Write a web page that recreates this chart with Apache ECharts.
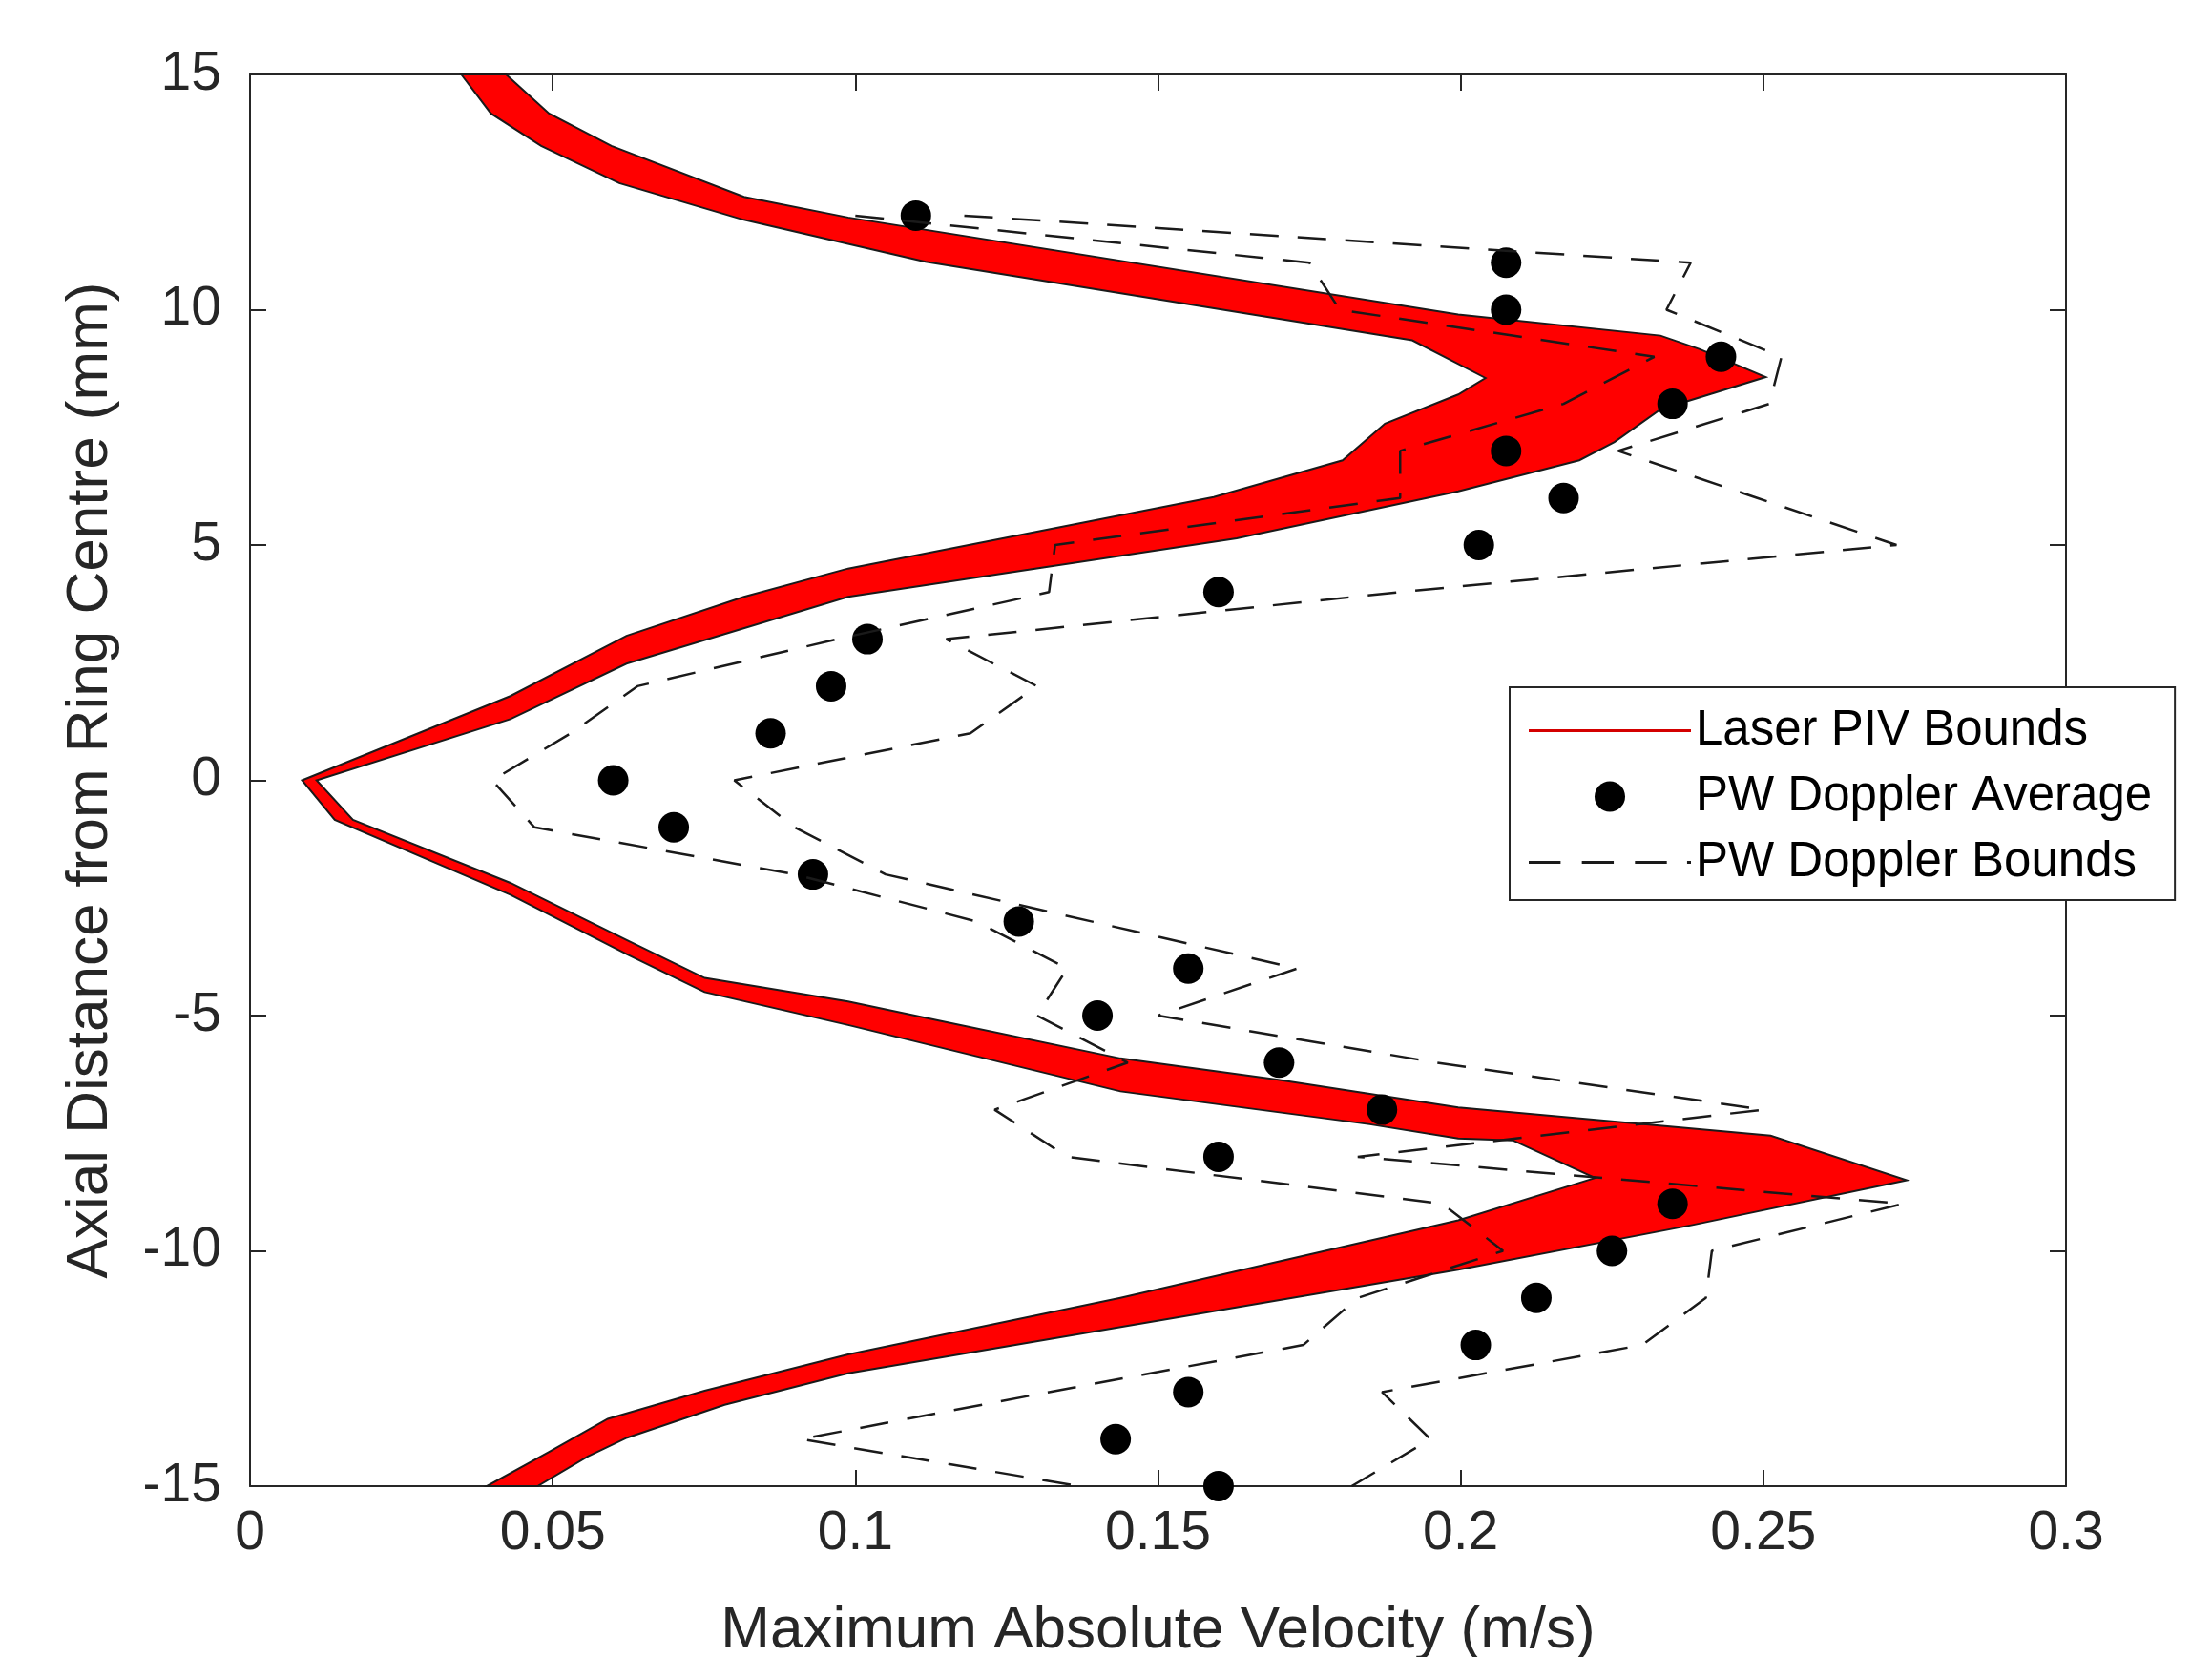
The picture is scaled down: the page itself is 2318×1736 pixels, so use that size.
<!DOCTYPE html>
<html>
<head>
<meta charset="utf-8">
<script src="https://cdn.jsdelivr.net/npm/echarts@6/dist/echarts.min.js"></script>
<style>
html,body{margin:0;padding:0;background:#ffffff;}
#chart{width:2318px;height:1736px;}
</style>
</head>
<body>
<div id="chart"></div>
<script>
// ---- Data ----
// Laser PIV bounds: [velocity (m/s), axial distance (mm)], ordered from top (15) to bottom (-15)
const pivLeftBound = [
  [0.0349,15],[0.0398,14.17],[0.0481,13.48],[0.061,12.69],[0.0816,11.91],[0.0988,11.4],
  [0.1116,11.02],[0.192,9.35],[0.2041,8.55],[0.1996,8.2],[0.1875,7.58],[0.1805,6.8],
  [0.1592,6.02],[0.0988,4.5],[0.0816,3.9],[0.0622,3.07],[0.043,1.79],[0.0086,0],
  [0.014,-0.84],[0.043,-2.43],[0.0623,-3.7],[0.0751,-4.5],[0.0988,-5.2],[0.1438,-6.61],
  [0.185,-7.31],[0.1996,-7.61],[0.2086,-7.65],[0.2222,-8.45],[0.1996,-9.35],[0.1438,-11.0],
  [0.0988,-12.2],[0.0751,-12.97],[0.0591,-13.57],[0.0494,-14.27],[0.0391,-15]
];
const pivRightBound = [
  [0.0423,15],[0.0494,14.17],[0.0597,13.48],[0.0816,12.4],[0.0988,11.96],[0.1996,9.9],
  [0.233,9.45],[0.2395,9.16],[0.2504,8.57],[0.233,7.88],[0.2254,7.19],[0.2196,6.8],
  [0.1996,6.14],[0.163,5.14],[0.0988,3.9],[0.0622,2.48],[0.043,1.3],[0.011,0],
  [0.017,-0.84],[0.043,-2.18],[0.0623,-3.4],[0.0751,-4.2],[0.0988,-4.7],[0.1136,-5.1],
  [0.1438,-5.91],[0.1696,-6.36],[0.1996,-6.95],[0.2512,-7.55],[0.2737,-8.5],[0.2383,-9.45],
  [0.1996,-10.4],[0.0988,-12.6],[0.0784,-13.27],[0.0623,-13.97],[0.0558,-14.37],[0.0475,-15]
];

// PW Doppler measurements at each axial position
const dopplerY = [12,11,10,9,8,7,6,5,4,3,2,1,0,-1,-2,-3,-4,-5,-6,-7,-8,-9,-10,-11,-12,-13,-14,-15];
const dopplerAverage = [0.110,0.2075,0.2075,0.243,0.235,0.2075,0.217,0.203,0.160,0.102,0.096,0.086,0.060,
  0.070,0.093,0.127,0.155,0.140,0.170,0.187,0.160,0.235,0.225,0.2125,0.2025,0.155,0.143,0.160];
const dopplerLower = [0.100,0.175,0.180,0.232,0.217,0.190,0.190,0.133,0.132,0.097,0.064,0.053,0.040,
  0.047,0.090,0.120,0.135,0.130,0.145,0.123,0.135,0.197,0.207,0.183,0.174,0.132,0.091,0.137];
const dopplerUpper = [0.118,0.238,0.234,0.253,0.251,0.226,0.249,0.272,0.190,0.115,0.130,0.119,0.080,
  0.090,0.105,0.139,0.173,0.150,0.196,0.250,0.183,0.273,0.2415,0.2405,0.230,0.187,0.195,0.182];

const xTickValues = [0,0.05,0.1,0.15,0.2,0.25,0.3];
const yTickValues = [-15,-10,-5,0,5,10,15];

// ---- Chart ----
const FONT = '"Liberation Sans", Arial, Helvetica, sans-serif';
const AX = '#262626';
const chart = echarts.init(document.getElementById('chart'), null, {renderer:'canvas'});

function pairs(vals){ return dopplerY.map((y,i)=>[vals[i], y]); }

const axisCommon = {
  axisLine:{show:true, onZero:false, lineStyle:{color:AX, width:2}},
  axisTick:{show:true, inside:true, length:17, lineStyle:{color:AX, width:2}},
  splitLine:{show:false}
};

const dashedIcon = 'path://M0 0H33V3H0Z M55 0H88V3H55Z M110 0H143V3H110Z M164 0H168V3H164Z';

const option = {
  animation:false,
  backgroundColor:'#ffffff',
  grid:{left:262, top:78, right:153, bottom:179, containLabel:false, outerBoundsMode:'none'},
  xAxis:[
    Object.assign({
      type:'value', min:xTickValues[0], max:xTickValues[xTickValues.length-1], interval:0.05,
      position:'bottom',
      axisLabel:{show:true, fontSize:57, color:AX, fontFamily:FONT, margin:22},
      name:'Maximum Absolute Velocity (m/s)', nameLocation:'middle', nameGap:121,
      nameTextStyle:{fontSize:62, color:AX, fontFamily:FONT}
    }, axisCommon),
    Object.assign({
      type:'value', min:xTickValues[0], max:xTickValues[xTickValues.length-1], interval:0.05,
      position:'top', axisLabel:{show:false}
    }, axisCommon)
  ],
  yAxis:[
    Object.assign({
      type:'value', min:yTickValues[0], max:yTickValues[yTickValues.length-1], interval:5,
      position:'left',
      axisLabel:{show:true, fontSize:57, color:AX, fontFamily:FONT, margin:30},
      name:'Axial Distance from Ring Centre (mm)', nameLocation:'middle', nameGap:136,
      nameTextStyle:{fontSize:62, color:AX, fontFamily:FONT}
    }, axisCommon),
    Object.assign({
      type:'value', min:yTickValues[0], max:yTickValues[yTickValues.length-1], interval:5,
      position:'right', axisLabel:{show:false}
    }, axisCommon)
  ],
  legend:{
    orient:'vertical', left:1582, top:720,
    padding:[20,24,14,20], itemGap:18, itemWidth:170, itemHeight:32,
    backgroundColor:'#ffffff', borderColor:AX, borderWidth:2, borderRadius:0,
    selectedMode:false,
    textStyle:{fontSize:51, lineHeight:51, color:'#000', fontFamily:FONT},
    data:[
      {name:'Laser PIV Bounds', icon:'path://M0 0H170V3H0Z', itemStyle:{color:'#d40000', opacity:1}},
      {name:'PW Doppler Average', icon:'circle', itemStyle:{color:'#000000', opacity:1}},
      {name:'PW Doppler Bounds', icon:dashedIcon, itemStyle:{color:'#1a1a1a', opacity:1}}
    ]
  },
  series:[
    {
      type:'custom', name:'Laser PIV Bounds', coordinateSystem:'cartesian2d',
      xAxisIndex:0, yAxisIndex:0,
      itemStyle:{color:'#ff0000'},
      data:[[pivLeftBound[0][0], pivLeftBound[0][1]]],
      renderItem:function(params, api){
        const poly = pivLeftBound.concat(pivRightBound.slice().reverse());
        return {
          type:'polygon',
          shape:{points: poly.map(p => api.coord(p))},
          style:{fill:'#ff0000', stroke:'#1a1a1a', lineWidth:2, lineJoin:'miter'}
        };
      },
      silent:true, z:1
    },
    {
      type:'scatter', name:'PW Doppler Average',
      data:pairs(dopplerAverage), symbol:'circle', symbolSize:32,
      itemStyle:{color:'#000000', opacity:1}, silent:true, z:2
    },
    {
      type:'line', name:'PW Doppler Bounds', data:pairs(dopplerLower),
      symbol:'none', showSymbol:false, smooth:false,
      itemStyle:{color:'#1a1a1a'},
      lineStyle:{color:'#1a1a1a', width:2.5, type:[30,20]}, silent:true, z:3
    },
    {
      type:'line', name:'PW Doppler Bounds', data:pairs(dopplerUpper),
      symbol:'none', showSymbol:false, smooth:false,
      itemStyle:{color:'#1a1a1a'},
      lineStyle:{color:'#1a1a1a', width:2.5, type:[30,20]}, silent:true, z:3
    }
  ]
};
chart.setOption(option);
</script>
</body>
</html>
